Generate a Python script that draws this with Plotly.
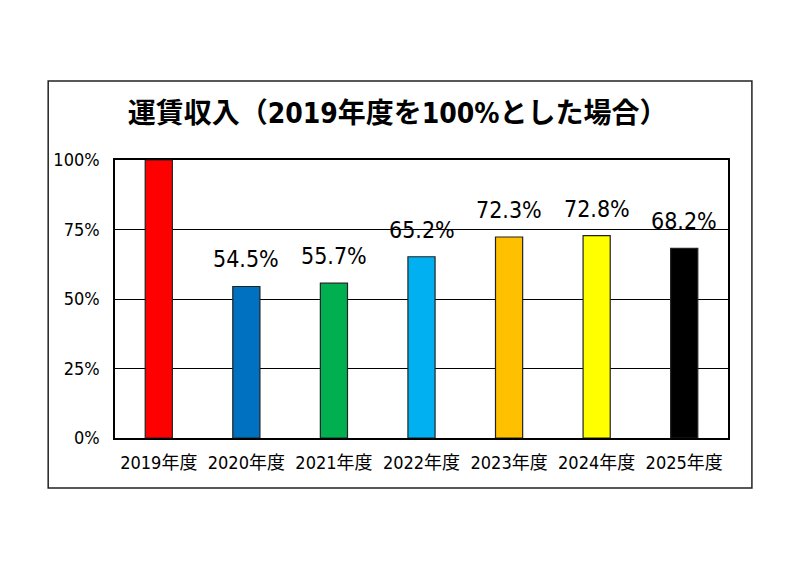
import plotly.graph_objects as go

years = ["2019年度", "2020年度", "2021年度", "2022年度", "2023年度", "2024年度", "2025年度"]
ratio = [1.0, 0.545, 0.557, 0.652, 0.723, 0.728, 0.682]
labels = ["", "54.5%", "55.7%", "65.2%", "72.3%", "72.8%", "68.2%"]
colors = ["#FF0000", "#0070C0", "#00B050", "#00B0F0", "#FFC000", "#FFFF00", "#000000"]
yticks = [0, 0.25, 0.5, 0.75, 1.0]
ytick_text = ["0%", "25%", "50%", "75%", "100%"]

# narrow latin glyphs, CJK falls back to Noto
font = "Liberation Sans Narrow, DejaVu Sans Condensed, Noto Sans CJK JP"

fig = go.Figure()
fig.add_trace(go.Bar(x=years, y=ratio,
                     marker=dict(color=colors, line=dict(color="#222222", width=1.2)),
                     width=0.31, showlegend=False))

# data labels above bars (none for the 100% base year)
for yr, v, t in zip(years, ratio, labels):
    if t:
        fig.add_annotation(x=yr, y=v, text=t, showarrow=False,
                           yanchor="bottom", yshift=12,
                           font=dict(family=font, size=23, color="black"))

# outer frame around the whole chart
fig.add_shape(type="rect", xref="paper", yref="paper",
              x0=-0.109, x1=1.039, y0=-0.180, y1=1.284,
              line=dict(color="#222222", width=1.5))

fig.update_layout(
    width=800, height=566,
    margin=dict(l=107, r=80, t=152, b=136),
    paper_bgcolor="white", plot_bgcolor="white",
    bargap=0.69,
    title=dict(text="<b>運賃収入（2019年度を100%とした場合）</b>",
               x=0.487, xanchor="center", y=0.815, yanchor="middle",
               font=dict(family=font, size=28, color="black")),
    xaxis=dict(showline=True, linecolor="black", linewidth=1.5, mirror=True,
               ticks="", ticklabelstandoff=8,
               tickfont=dict(family=font, size=18, color="black")),
    yaxis=dict(range=[0, 1.0], tickvals=yticks, ticktext=ytick_text,
               showgrid=True, gridcolor="black", gridwidth=1.2,
               showline=True, linecolor="black", linewidth=1.5, mirror=True,
               ticks="", ticklen=0, zeroline=False, ticklabelstandoff=10,
               tickfont=dict(family=font, size=18, color="black")),
)

fig.write_html("out.html")
